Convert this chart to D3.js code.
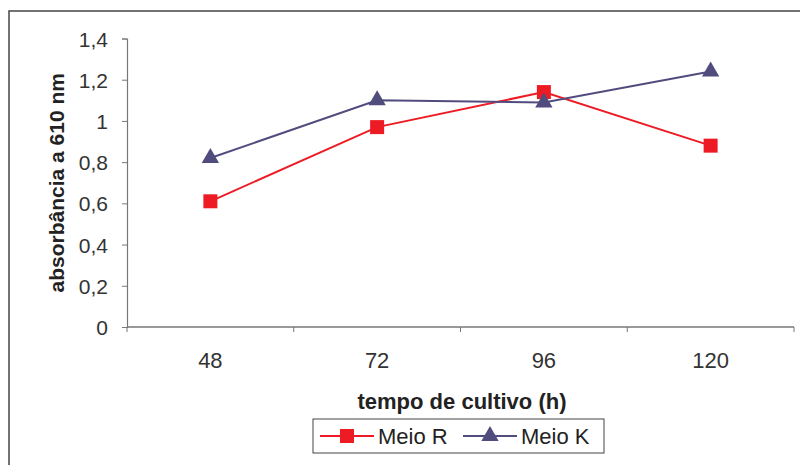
<!DOCTYPE html>
<html>
<head>
<meta charset="utf-8">
<script src="https://cdn.jsdelivr.net/npm/d3@7"></script>
<style>
  body { margin: 0; background: #fff; }
  svg { display: block; font-family: Arial, "Liberation Sans", sans-serif; }
</style>
</head>
<body>
<script>
// chart data
const categories = ["48", "72", "96", "120"];
const meioR = [0.61, 0.97, 1.14, 0.88];
const meioK = [0.82, 1.10, 1.09, 1.24];
const yTicks = [0, 0.2, 0.4, 0.6, 0.8, 1, 1.2, 1.4];

const width = 800, height = 465;
const margin = { top: 38.5, left: 127 };
const plotW = 794 - margin.left;
const plotH = 327 - margin.top;

const red = "#ed1c24", purple = "#514c7e";

let svg = d3.select("body").append("svg")
  .attr("width", width)
  .attr("height", height);

// outer frame
svg.append("rect")
  .attr("x", 9).attr("y", 11)
  .attr("width", 800).attr("height", 470)
  .attr("fill", "none")
  .attr("stroke", "#444")
  .attr("stroke-width", 1.5);

let g = svg.append("g")
  .attr("transform", `translate(${margin.left},${margin.top})`);

let x = d3.scaleBand().domain(categories).range([0, plotW]);
let y = d3.scaleLinear().domain([0, 1.4]).range([plotH, 0]);

// y axis
let yAxis = g.append("g")
  .call(d3.axisLeft(y).tickValues(yTicks).tickSize(5).tickPadding(14)
    .tickFormat(d => d3.format("~g")(d).replace(".", ",")));
yAxis.select(".domain").attr("stroke", "#777").attr("stroke-width", 1.2);
yAxis.selectAll(".tick line").attr("stroke", "#777");
yAxis.selectAll("text").attr("font-size", 21).attr("fill", "#333").attr("dy", "0.36em");

// x axis: ticks between categories
let xAxis = g.append("g").attr("transform", `translate(0,${plotH})`);
xAxis.append("line")
  .attr("x1", 0).attr("x2", plotW)
  .attr("stroke", "#777").attr("stroke-width", 1.5);
xAxis.selectAll(".xt")
  .data(d3.range(categories.length + 1))
  .enter().append("line")
  .attr("x1", i => i * x.step()).attr("x2", i => i * x.step())
  .attr("y1", 0).attr("y2", 5)
  .attr("stroke", "#777");
xAxis.selectAll(".xl")
  .data(categories)
  .enter().append("text")
  .attr("x", d => x(d) + x.bandwidth() / 2)
  .attr("y", 41)
  .attr("text-anchor", "middle")
  .attr("font-size", 22)
  .attr("fill", "#333")
  .text(d => d);

// axis titles
svg.append("text")
  .attr("transform", `translate(64,${margin.top + plotH / 2})rotate(-90)`)
  .attr("text-anchor", "middle")
  .attr("font-size", 21)
  .attr("font-weight", "bold")
  .attr("fill", "#222")
  .text("absorbância a 610 nm");

svg.append("text")
  .attr("x", 462).attr("y", 409)
  .attr("text-anchor", "middle")
  .attr("font-size", 22)
  .attr("font-weight", "bold")
  .attr("fill", "#222")
  .text("tempo de cultivo (h)");

// lines
let cx = i => x(categories[i]) + x.bandwidth() / 2;
let line = d3.line().x((d, i) => cx(i)).y(d => y(d));

g.append("path").attr("d", line(meioR))
  .attr("fill", "none").attr("stroke", red).attr("stroke-width", 2);
g.append("path").attr("d", line(meioK))
  .attr("fill", "none").attr("stroke", purple).attr("stroke-width", 2);

let sq = d3.symbol().type(d3.symbolSquare).size(196);
let tri = d3.symbol().type(d3.symbolTriangle).size(130);

g.selectAll(".ptR").data(meioR).enter().append("path")
  .attr("d", sq)
  .attr("transform", (d, i) => `translate(${cx(i)},${y(d)})`)
  .attr("fill", red);
g.selectAll(".ptK").data(meioK).enter().append("path")
  .attr("d", tri)
  .attr("transform", (d, i) => `translate(${cx(i)},${y(d)})`)
  .attr("fill", purple);

// legend
let leg = svg.append("g");
leg.append("rect")
  .attr("x", 313).attr("y", 419).attr("width", 291).attr("height", 34)
  .attr("fill", "#fff").attr("stroke", "#444").attr("stroke-width", 1);

let items = [
  { name: "Meio R", color: red, sym: sq, x0: 320 },
  { name: "Meio K", color: purple, sym: tri, x0: 463 }
];
items.forEach(it => {
  leg.append("line")
    .attr("x1", it.x0).attr("x2", it.x0 + 54)
    .attr("y1", 436).attr("y2", 436)
    .attr("stroke", it.color).attr("stroke-width", 2);
  leg.append("path").attr("d", it.sym)
    .attr("transform", `translate(${it.x0 + 27},436)`)
    .attr("fill", it.color);
  leg.append("text")
    .attr("x", it.x0 + 58).attr("y", 444)
    .attr("font-size", 22).attr("fill", "#222")
    .text(it.name);
});
</script>
</body>
</html>
